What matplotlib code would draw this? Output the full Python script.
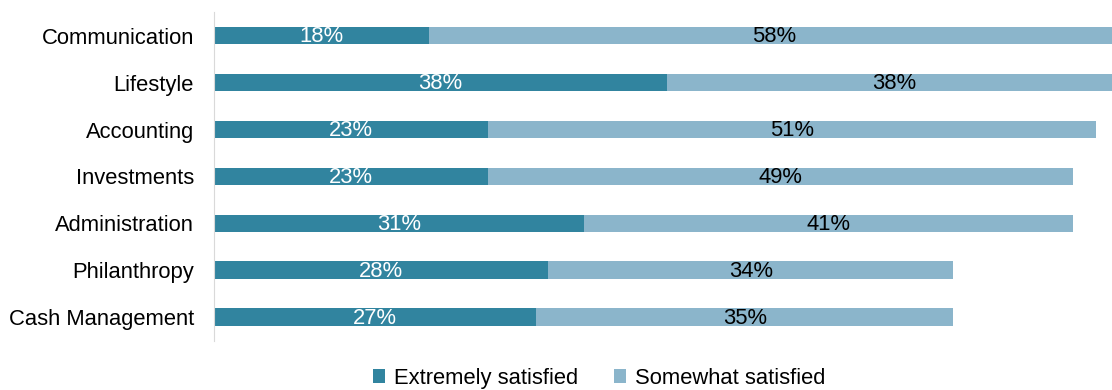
import numpy as np
from matplotlib import pyplot as plt

plt.rcParams['font.family'] = ['Liberation Sans', 'DejaVu Sans']

categories = ['Communication', 'Lifestyle', 'Accounting', 'Investments',
              'Administration', 'Philanthropy', 'Cash Management']
extremely = [18, 38, 23, 23, 31, 28, 27]
somewhat = [58, 38, 51, 49, 41, 34, 35]

DARK = '#31849f'
LIGHT = '#8bb5cb'
FS = 15.8

fig = plt.figure(figsize=(11.12, 3.9), dpi=100)
ax = fig.add_axes([0.1924, 0.126, 0.8076, 0.843])

y = np.arange(len(categories))
ax.barh(y, extremely, height=0.38, color=DARK, label='Extremely satisfied')
ax.barh(y, somewhat, left=extremely, height=0.38, color=LIGHT, label='Somewhat satisfied')

for i in range(len(categories)):
    ax.text(extremely[i] / 2, y[i] + 0.03, f'{extremely[i]}%', ha='center', va='center',
            color='white', fontsize=FS)
    ax.text(extremely[i] + somewhat[i] / 2, y[i] + 0.03, f'{somewhat[i]}%', ha='center',
            va='center', color='black', fontsize=FS)

ax.set_xlim(0, 75.3)
ax.set_ylim(len(categories) - 0.5, -0.5)
ax.set_yticks(y)
ax.set_yticklabels(categories, fontsize=FS)
ax.set_xticks([])
ax.tick_params(axis='y', length=0, pad=14.4)

for side in ['top', 'right', 'bottom']:
    ax.spines[side].set_visible(False)
ax.spines['left'].set_color('#d9d9d9')

ax.legend(loc='center', bbox_to_anchor=(0.539, 0.03), bbox_transform=fig.transFigure,
          ncol=2, frameon=False, fontsize=FS, handlelength=0.55, handleheight=0.55,
          handletextpad=0.4, columnspacing=1.65)

fig.savefig('out.png', dpi=100)
